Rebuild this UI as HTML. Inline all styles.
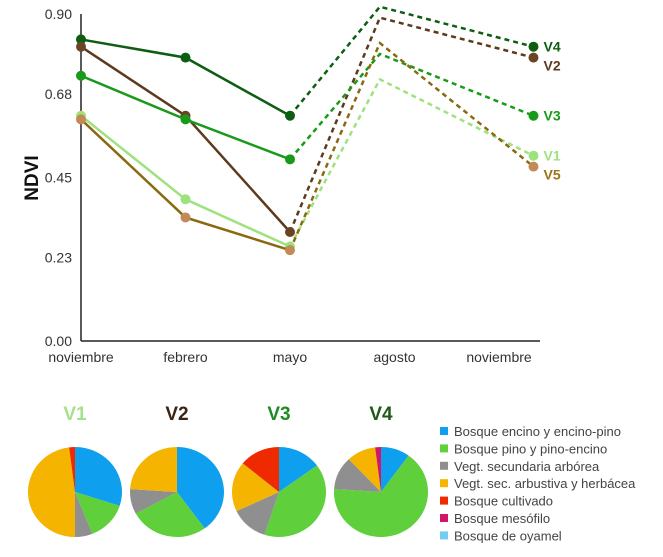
<!DOCTYPE html>
<html><head><meta charset="utf-8"><style>
body{margin:0;background:#fff;width:663px;height:552px;overflow:hidden;font-family:"Liberation Sans",sans-serif}
</style></head><body>
<svg id="c" width="663" height="552" xmlns="http://www.w3.org/2000/svg"></svg>
<script>
const categories=["noviembre","febrero","mayo","agosto","noviembre"];
const timePos=[0,1,2,2.86,4.33];
const yTicks=[0,0.23,0.45,0.68,0.90];
const seriesNames=["V4","V2","V3","V1","V5"];
const v4=[0.83,0.78,0.62,0.92,0.81];
const v2=[0.81,0.62,0.30,0.89,0.78];
const v3=[0.73,0.61,0.50,0.79,0.62];
const v1=[0.62,0.39,0.26,0.72,0.51];
const v5=[0.61,0.34,0.25,0.82,0.48];
const pieNames=["V1","V2","V3","V4"];
const pieV1=[30,14,6,48,2,0,0];
const pieV2=[40,27,9,24,0,0,0];
const pieV3=[15,40,13,18,14,0,0];
const pieV4=[10,66,12,10,0,2,0];
const legendLabels=["Bosque encino y encino-pino","Bosque pino y pino-encino","Vegt. secundaria arbórea","Vegt. sec. arbustiva y herbácea","Bosque cultivado","Bosque mesófilo","Bosque de oyamel"];

const S=document.getElementById('c');const NS="http://www.w3.org/2000/svg";
function mk(t,a,p){const e=document.createElementNS(NS,t);for(const k in a)e.setAttribute(k,a[k]);(p||S).appendChild(e);return e;}
const x=i=>81+i*104.5;
const y=v=>341-v*(327/0.9);
let ax=mk('line',{x1:81,y1:14,x2:81,y2:341,stroke:'#222','stroke-width':1.5});


ax=mk('line',{x1:81,y1:341,x2:540,y2:341,stroke:'#222','stroke-width':1.5});


yTicks.forEach(t=>{const e=mk('text',{x:72,y:y(t)+5,'text-anchor':'end','font-size':14,fill:'#333'});e.textContent=t.toFixed(2);

});
categories.forEach((c,i)=>{const e=mk('text',{x:x(i),y:362,'text-anchor':'middle','font-size':14,fill:'#333'});e.textContent=c;

});
const yt=mk('text',{transform:'translate(38,178) rotate(-90)','text-anchor':'middle','font-size':19,'font-weight':'bold',fill:'#111'});yt.textContent='NDVI';


const data=[v4,v2,v3,v1,v5];
const lineCol=['#0d5e12','#5c3a1e','#1a9a1a','#9ee27e','#8a6a10'];
const dotCol=['#0d5e12','#6b4424','#1a9a1a','#9ee27e','#c28a58'];
const labCol=['#0d5e12','#5c3a1e','#1a9a1a','#9ee27e','#9a7416'];
const labOff=[0,8,0,0,8];
data.forEach((d,s)=>{
  const pts=d.map((v,i)=>[x(timePos[i]),y(v)]);
  const solid=mk('polyline',{points:pts.slice(0,3).map(p=>p.join(',')).join(' '),fill:'none',stroke:lineCol[s],'stroke-width':2.5});
  
  
  const dash=mk('polyline',{points:pts.slice(2).map(p=>p.join(',')).join(' '),fill:'none',stroke:lineCol[s],'stroke-width':2.5,'stroke-dasharray':'5,4'});
  
  
  pts.forEach((p,i)=>{if(i==3)return;const c=mk('circle',{cx:p[0],cy:p[1],r:5,fill:dotCol[s]});
    
    });
  const l=mk('text',{x:pts[4][0]+10,y:pts[4][1]+5+labOff[s],'font-size':14,'font-weight':'bold',fill:labCol[s]});l.textContent=seriesNames[s];
  
  
});
const pieCol=['#0ea0ee','#5fd03c','#8f8f8f','#f4b400','#f02a00','#d0156a','#74cdf0'];
const titleCol=['#a6e08c','#3b2412','#1f8a22','#1f5a16'];
[pieV1,pieV2,pieV3,pieV4].forEach((p,k)=>{
  const cx=75+k*102,cy=492,rx=47,ry=45;
  const g=mk('g',{});
  
  
  const tot=p.reduce((a,b)=>a+b,0);let a0=0;
  p.forEach((v,i)=>{if(!v)return;const a1=a0+v/tot*2*Math.PI;
    const x0=cx+rx*Math.sin(a0),y0=cy-ry*Math.cos(a0),x1=cx+rx*Math.sin(a1),y1=cy-ry*Math.cos(a1);
    const e=mk('path',{d:`M${cx},${cy}L${x0},${y0}A${rx},${ry} 0 ${a1-a0>Math.PI?1:0} 1 ${x1},${y1}Z`,fill:pieCol[i]},g);
    
    
    a0=a1;});
  const t=mk('text',{x:cx,y:420,'text-anchor':'middle','font-size':19,'font-weight':'bold',fill:titleCol[k]});t.textContent=pieNames[k];
  
  
});
legendLabels.forEach((l,i)=>{const yy=432+i*17.4;
  const r=mk('rect',{x:440,y:yy-5,width:8,height:8,fill:pieCol[i]});
  
  
  const t=mk('text',{x:454,y:yy+4,'font-size':13,fill:'#444'});t.textContent=l;
  
  });
</script>
</body></html>
